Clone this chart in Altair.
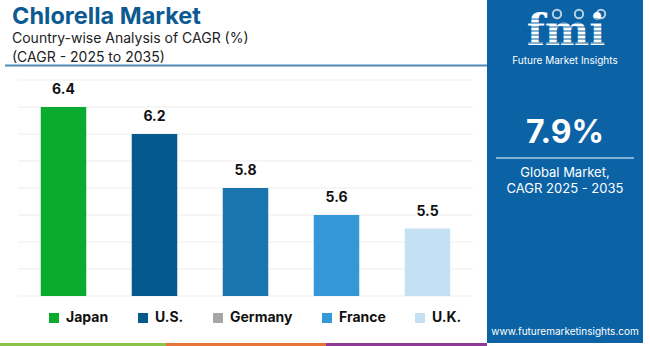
import altair as alt
import pandas as pd

# ---------------- data ----------------
countries = ["Japan", "U.S.", "Germany", "France", "U.K."]
cagr = [6.4, 6.2, 5.8, 5.6, 5.5]
bar_colors = ["#0aab2e", "#045a8d", "#1a75af", "#3498d6", "#c3e1f3"]
legend_colors = ["#0aab2e", "#045a8d", "#a6a6a6", "#3498d6", "#c3e1f3"]
grid_ticks = [5.0, 5.2, 5.4, 5.6, 5.8, 6.0, 6.2, 6.4, 6.6]

title_text = "Chlorella Market"
subtitle_lines = ["Country-wise Analysis of CAGR (%)", "(CAGR - 2025 to 2035)"]
logo_text = "fmi"
logo_sub = "Future Market Insights"
global_cagr = "7.9%"
panel_lines = ["Global Market,", "CAGR 2025 - 2035"]
website = "www.futuremarketinsights.com"

FONT = "Inter"
PANEL = "#0b63a6"

df = pd.DataFrame({"country": countries, "cagr": cagr, "bar_color": bar_colors})
grid_df = pd.DataFrame({"tick": grid_ticks})
one = pd.DataFrame({"a": [0]})


def label(text, x, y, size, color, weight="normal", align="left", font=FONT, baseline="alphabetic"):
    return alt.Chart(pd.DataFrame({"t": [text]})).mark_text(
        align=align, baseline=baseline, fontSize=size, font=font,
        fontWeight=weight, color=color
    ).encode(x=alt.value(x), y=alt.value(y), text="t:N")


def box(x, x2, y, y2, color):
    return alt.Chart(one).mark_rect(color=color).encode(
        x=alt.value(x), x2=alt.value(x2), y=alt.value(y), y2=alt.value(y2)
    )


def hline(x, x2, y, color, width):
    return alt.Chart(one).mark_rule(color=color, strokeWidth=width).encode(
        x=alt.value(x), x2=alt.value(x2), y=alt.value(y)
    )


x_enc = alt.X(
    "country:N", sort=countries,
    scale=alt.Scale(domain=countries, range=[18, 473], paddingInner=0.5, paddingOuter=0.25),
    axis=None,
)
y_scale = alt.Scale(domain=[5.0, 6.6], range=[296, 80], zero=False, nice=False)

grid = alt.Chart(grid_df).mark_rule(color="#ededed", strokeWidth=1).encode(
    x=alt.value(18), x2=alt.value(473),
    y=alt.Y("tick:Q", scale=y_scale, axis=None),
)

base = alt.Chart(df)
bars = base.mark_bar().encode(
    x=x_enc,
    y=alt.Y("cagr:Q", scale=y_scale, axis=None),
    y2=alt.datum(5.0),
    color=alt.Color("bar_color:N", scale=None, legend=None),
)
values = base.mark_text(
    dy=-10, baseline="bottom", fontWeight="bold", fontSize=14, font=FONT, color="#111111"
).encode(
    x=x_enc,
    y=alt.Y("cagr:Q", scale=y_scale, axis=None),
    text=alt.Text("cagr:Q", format=".1f"),
)

legend_layer = base.mark_square(opacity=0).encode(
    color=alt.Color(
        "country:N", sort=countries,
        scale=alt.Scale(domain=countries, range=legend_colors),
        legend=alt.Legend(
            orient="none", legendX=47, legendY=311, direction="horizontal",
            title=None, symbolType="square", symbolSize=100, symbolOpacity=1,
            symbolStrokeWidth=0, labelFont=FONT, labelFontSize=14,
            labelFontWeight="bold", labelColor="#111111", labelOffset=5,
            columnPadding=27, padding=0,
        ),
    )
)

layers = [
    grid, bars, values, legend_layer,
    label(title_text, 12, 24, 23.5, "#0d5a92", weight="bold"),
    label(subtitle_lines[0], 12, 43, 14, "#222222"),
    label(subtitle_lines[1], 12, 62, 14, "#222222"),
    hline(5, 487, 65.5, "#4f8ab5", 2),
    box(487, 643, 0, 343, PANEL),
    box(0, 166, 343, 346, "#8bc34a"),
    box(166, 326, 343, 346, "#e8743b"),
    box(326, 487, 343, 346, "#8e3a96"),
    label(logo_text, 566, 45, 42, "white", weight="bold", align="center", font="DejaVu Serif"),
]
for sy in [19, 23, 27, 31, 35, 39, 43]:
    layers.append(hline(508, 624, sy, PANEL, 1))
icons = alt.Chart(pd.DataFrame({"a": [0]})).mark_point(
    shape="circle", filled=False, color="white", strokeWidth=2, size=70
)
for cx in [557, 579, 601]:
    layers.append(icons.encode(x=alt.value(cx), y=alt.value(14)))
layers += [
    label(logo_sub, 565, 64, 10, "white", align="center"),
    label(global_cagr, 565, 143, 32, "white", weight="bold", align="center"),
    hline(496, 634, 158, "#a9cbe8", 1.5),
    label(panel_lines[0], 565, 177, 13, "white", align="center"),
    label(panel_lines[1], 565, 193, 13, "white", align="center"),
    label(website, 565, 335, 10, "white", align="center"),
]

chart = alt.layer(*layers).resolve_scale(color="independent").properties(
    width=650, height=346,
    autosize=alt.AutoSizeParams(type="none"),
    padding=0,
    background="white",
).configure_view(stroke=None)

chart.save("out.html", embed_options={"renderer": "svg", "actions": False})
